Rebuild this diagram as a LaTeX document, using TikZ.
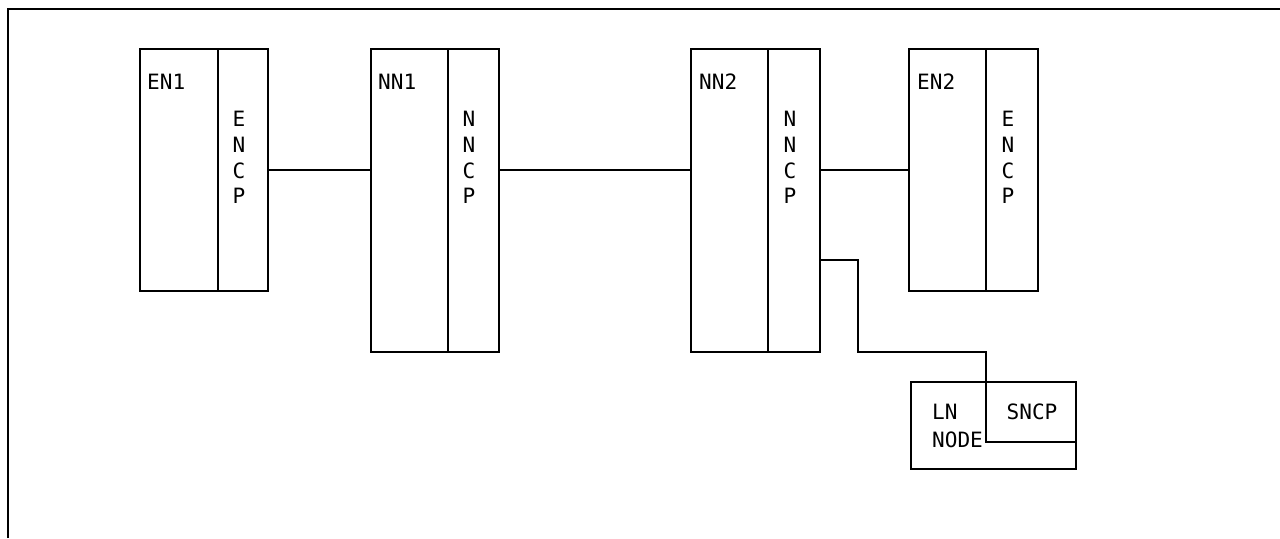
\documentclass[tikz,border=0pt]{standalone}
\usepackage{fontspec}
\setmainfont{DejaVu Sans Mono}
\usepackage{tikz}

\tikzset{
  box/.style={draw,line width=1.3pt,inner sep=0pt,outer sep=0pt},
  lbl/.style={inner sep=0pt,font=\fontsize{12}{14.6}\selectfont},
  vlbl/.style={lbl,align=center,font=\fontsize{12}{14.6}\selectfont},
}

\begin{document}
\begin{tikzpicture}[x=0.02cm,y=-0.02cm,line width=1.3pt]
\useasboundingbox (0,0) rectangle (1280,538);
\draw (8,538)--(8,9)--(1280,9);
% end and network nodes
\node[box,minimum width=1.56cm,minimum height=4.84cm] (en1) at (179,170) {};
\node[box,minimum width=1.00cm,minimum height=4.84cm] (en1cp) at (243,170) {};
\node[box,minimum width=1.54cm,minimum height=6.06cm] (nn1) at (409.5,200.5) {};
\node[box,minimum width=1.02cm,minimum height=6.06cm] (nn1cp) at (473.5,200.5) {};
\node[box,minimum width=1.54cm,minimum height=6.06cm] (nn2) at (729.5,200.5) {};
\node[box,minimum width=1.04cm,minimum height=6.06cm] (nn2cp) at (794,200.5) {};
\node[box,minimum width=1.54cm,minimum height=4.84cm] (en2) at (947.5,170) {};
\node[box,minimum width=1.04cm,minimum height=4.84cm] (en2cp) at (1012,170) {};
\node[box,minimum width=3.3cm,minimum height=1.74cm] (ln) at (993.5,425.5) {};
\node[box,minimum width=1.8cm,minimum height=1.2cm] (sncp) at (1031,412) {};
% labels
\node[lbl,anchor=north west] (en1l) at (146,73) {EN1};
\node[lbl,anchor=north west] (nn1l) at (377,73) {NN1};
\node[lbl,anchor=north west] (nn2l) at (698,73) {NN2};
\node[lbl,anchor=north west] (en2l) at (916,73) {EN2};
\node[vlbl] (en1cpl) at (239,157.5) {E\\N\\C\\P};
\node[vlbl] (nn1cpl) at (469,157.5) {N\\N\\C\\P};
\node[vlbl] (nn2cpl) at (790,157.5) {N\\N\\C\\P};
\node[vlbl] (en2cpl) at (1008,157.5) {E\\N\\C\\P};
\node[lbl,align=left,anchor=west,font=\fontsize{12}{15.9}\selectfont] (lnl) at (931,426) {LN\\NODE};
\node[lbl] (sncpl) at (1032,412) {SNCP};
% links
\draw (en1cp.east)--(en1cp.east -| nn1.west);
\draw (nn1cp.east |- en1cp.east)--(nn2.west |- en1cp.east);
\draw (nn2cp.east |- en2.west)--(en2.west);
\coordinate (tap) at (820,260);
\coordinate (kink) at (858,352);
\draw (tap) -| (kink) -| (sncp.north west);
\end{tikzpicture}
\end{document}
